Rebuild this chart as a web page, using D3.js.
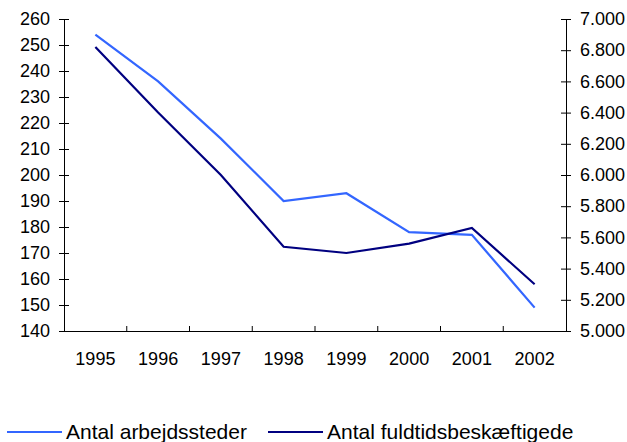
<!DOCTYPE html>
<html>
<head>
<meta charset="utf-8">
<script src="https://cdn.jsdelivr.net/npm/d3@7"></script>
<style>
  body { margin: 0; background: #fff; }
  svg text { font-family: "Liberation Sans", Arial, sans-serif; fill: #000; }
</style>
</head>
<body>
<div id="chart"></div>
<script>
// data
const years = ["1995", "1996", "1997", "1998", "1999", "2000", "2001", "2002"];
const arbejdssteder = [254, 236, 214, 190, 193, 178, 177, 149];
const fuldtids = [6820, 6400, 6000, 5540, 5500, 5560, 5660, 5300];
const leftTicks = [140, 150, 160, 170, 180, 190, 200, 210, 220, 230, 240, 250, 260];
const rightTicks = [5000, 5200, 5400, 5600, 5800, 6000, 6200, 6400, 6600, 6800, 7000];
const seriesNames = ["Antal arbejdssteder", "Antal fuldtidsbeskæftigede"];

const width = 627, height = 442;
const plotLeft = 64, plotRight = 566, plotTop = 19, plotBottom = 331;
const lightColor = '#3366FF', darkColor = '#000080';

const dk = d3.formatLocale({decimal: ",", thousands: ".", grouping: [3], currency: ["", ""]});
const fmtDk = dk.format(",");

const svg = d3.select('#chart').append('svg')
    .attr('width', width)
    .attr('height', height);

const x = d3.scaleBand().domain(years).range([plotLeft, plotRight]);
const yL = d3.scaleLinear().domain([140, 260]).range([plotBottom, plotTop]);
const yR = d3.scaleLinear().domain([5000, 7000]).range([plotBottom, plotTop]);

// left axis
const gL = svg.append('g')
    .attr('transform', 'translate(' + plotLeft + ',0)')
    .call(d3.axisLeft(yL).tickValues(leftTicks).tickSize(5).tickPadding(9));
gL.selectAll('.tick line').attr('x1', 5);
gL.selectAll('text').style('font-size', '18px');

// right axis
const gR = svg.append('g')
    .attr('transform', 'translate(' + plotRight + ',0)')
    .call(d3.axisRight(yR).tickValues(rightTicks).tickFormat(fmtDk).tickSize(5).tickPadding(9));
gR.selectAll('.tick line').attr('x1', -5);
gR.selectAll('text').style('font-size', '18px');

// bottom axis - labels at category centres, ticks at boundaries
const gB = svg.append('g')
    .attr('transform', 'translate(0,' + plotBottom + ')')
    .call(d3.axisBottom(x).tickSize(0).tickPadding(21).tickSizeOuter(0));
gB.selectAll('text').style('font-size', '18px');
gB.selectAll('.sep')
    .data(years.slice(1))
    .enter().append('line')
    .attr('class', 'sep')
    .attr('x1', d => x(d)).attr('x2', d => x(d))
    .attr('y1', 0).attr('y2', -5)
    .attr('stroke', '#000');

svg.selectAll('.domain').attr('stroke', '#000');

// lines
const cx = d => x(d) + x.bandwidth() / 2;

svg.append('path')
    .datum(arbejdssteder)
    .attr('fill', 'none')
    .attr('stroke', lightColor)
    .attr('stroke-width', 2.2)
    .attr('d', d3.line().x((d, i) => cx(years[i])).y(d => yL(d)));

svg.append('path')
    .datum(fuldtids)
    .attr('fill', 'none')
    .attr('stroke', darkColor)
    .attr('stroke-width', 2.2)
    .attr('d', d3.line().x((d, i) => cx(years[i])).y(d => yR(d)));

// legend
const legend = svg.append('g').attr('transform', 'translate(0,432)');
const legendItems = [
    {name: seriesNames[0], color: lightColor, x0: 7},
    {name: seriesNames[1], color: darkColor, x0: 268}
];
legendItems.forEach(function(it) {
    legend.append('line')
        .attr('x1', it.x0).attr('x2', it.x0 + 55)
        .attr('y1', 0).attr('y2', 0)
        .attr('stroke', it.color)
        .attr('stroke-width', 2.2);
    legend.append('text')
        .attr('x', it.x0 + 59)
        .attr('y', 0)
        .attr('dy', '0.35em')
        .style('font-size', '21px')
        .text(it.name);
});
</script>
</body>
</html>
